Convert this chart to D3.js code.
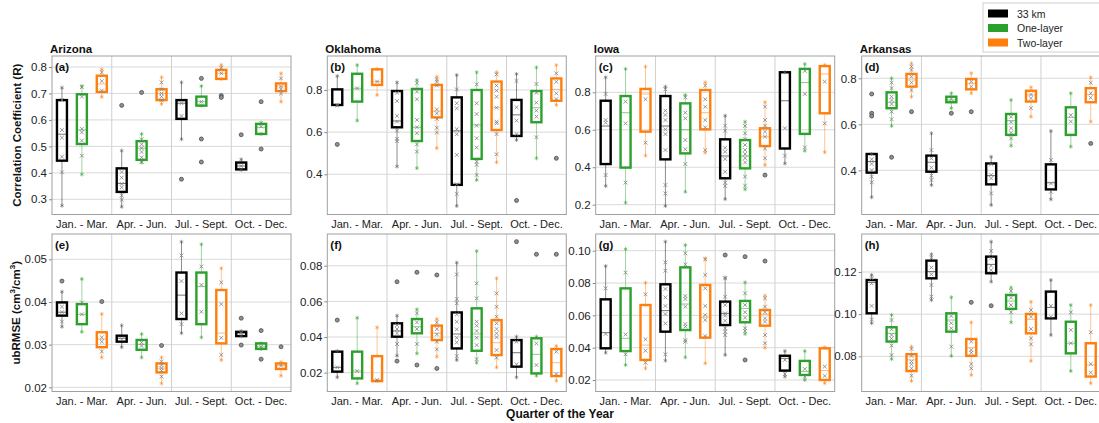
<!DOCTYPE html>
<html>
<head>
<meta charset="utf-8">
<script src="https://cdn.jsdelivr.net/npm/d3@7"></script>
<style>
  html, body { margin: 0; padding: 0; background: #fff; }
  svg { display: block; font-family: "Liberation Sans", Arial, sans-serif; }
</style>
</head>
<body>
<svg id="chart" width="1099" height="423"></svg>
<script>
// Quarters, model runs and colours
const quarters = ["Jan. - Mar.", "Apr. - Jun.", "Jul. - Sept.", "Oct. - Dec."];
const models = ["33 km", "One-layer", "Two-layer"];
const modelColors = ["#000000", "#2ca02c", "#ff7f0e"];

// Each box: [whiskerLow, q1, median, q3, whiskerHigh, [site values], [outliers]]
// Grouped per quarter, in model order (33 km, One-layer, Two-layer)

const arizonaR = [
  [[0.276,0.446,0.546,0.675,0.722,[0.675,0.562,0.533,0.461,0.402],[]],
   [0.394,0.509,0.562,0.697,0.728,[0.724,0.688,0.566,0.553,0.522,0.465],[]],
   [0.687,0.706,0.736,0.767,0.791,[0.780,0.747,0.711],[]]],
  [[0.272,0.328,0.360,0.417,0.484,[0.403,0.382,0.358,0.345,0.315,0.298],[0.655]],
   [0.439,0.449,0.493,0.520,0.547,[0.527,0.508,0.493,0.479,0.459,0.441],[0.704]],
   [0.660,0.675,0.700,0.716,0.761,[0.742,0.716,0.700,0.688,0.675],[]]],
  [[0.527,0.604,0.663,0.675,0.742,[0.663,0.615],[0.376]],
   [0.654,0.654,0.669,0.688,0.728,[0.669],[0.757,0.528,0.441]],
   [0.755,0.755,0.776,0.789,0.808,[0.797,0.776],[0.692,0.685]]],
  [[0.411,0.413,0.426,0.439,0.451,[0.426],[0.544]],
   [0.547,0.547,0.572,0.585,0.590,[0.575],[0.669,0.490]],
   [0.669,0.709,0.728,0.738,0.776,[0.757,0.726,0.716,0.700],[]]]
];

const oklahomaR = [
  [[0.729,0.729,0.729,0.803,0.866,[0.726],[0.542]],
   [0.655,0.745,0.808,0.877,0.918,[0.808],[]],
   [0.776,0.824,0.840,0.898,0.900,[0.840],[]]],
  [[0.437,0.623,0.653,0.795,0.836,[0.787,0.748,0.677,0.650,0.607,0.568,0.557],[]],
   [0.429,0.558,0.623,0.805,0.847,[0.832,0.792,0.756,0.658,0.623,0.595,0.542,0.508],[]],
   [0.524,0.670,0.700,0.824,0.863,[0.850,0.840,0.821,0.708,0.689,0.663,0.621,0.598],[]]],
  [[0.250,0.350,0.606,0.765,0.871,[0.803,0.737,0.713,0.614,0.590,0.492,0.353,0.307],[]],
   [0.373,0.473,0.634,0.800,0.884,[0.827,0.737,0.686,0.631,0.571,0.527,0.460,0.445,0.397],[]],
   [0.457,0.610,0.716,0.840,0.884,[0.874,0.821,0.797,0.768,0.716,0.650,0.642,0.591,0.495],[]]],
  [[0.563,0.582,0.682,0.753,0.876,[0.843,0.718,0.655,0.591],[0.276]],
   [0.476,0.647,0.716,0.795,0.907,[0.828,0.787,0.740,0.702,0.674,0.576],[]],
   [0.729,0.749,0.803,0.855,0.918,[0.879,0.839,0.784,0.757],[0.476]]]
];

const iowaR = [
  [[0.300,0.417,0.620,0.755,0.880,[0.791,0.652,0.638,0.358],[]],
   [0.211,0.398,0.691,0.780,0.925,[0.750,0.634,0.318],[]],
   [0.462,0.590,0.791,0.818,0.937,[0.763,0.531],[]]],
  [[0.193,0.442,0.620,0.780,0.830,[0.816,0.702,0.679,0.652,0.602,0.577,0.492,0.305,0.260],[]],
   [0.269,0.474,0.600,0.741,0.786,[0.773,0.691,0.661,0.545,0.496,0.417],[]],
   [0.478,0.602,0.691,0.812,0.853,[0.836,0.763,0.723,0.652,0.613,0.492],[]]],
  [[0.230,0.341,0.460,0.549,0.675,[0.622,0.595,0.504,0.483,0.444,0.376,0.318,0.300],[]],
   [0.282,0.394,0.460,0.545,0.643,[0.620,0.581,0.549,0.519,0.492,0.471,0.448,0.426,0.350,0.302],[]],
   [0.412,0.513,0.563,0.608,0.747,[0.723,0.652,0.622,0.590,0.563,0.500,0.448],[0.358]]],
  [[0.420,0.500,0.755,0.907,0.907,[0.608,0.462],[]],
   [0.488,0.578,0.852,0.925,0.951,[0.914,0.791,0.506],[]],
   [0.480,0.688,0.898,0.940,0.946,[0.857,0.634],[]]]
];

const arkansasR = [
  [[0.283,0.390,0.438,0.471,0.471,[0.448,0.428,0.401,0.372,0.348],[0.732,0.648,0.636]],
   [0.593,0.670,0.696,0.739,0.800,[0.781,0.757,0.720,0.706,0.688,0.655,0.622],[0.457]],
   [0.720,0.764,0.793,0.819,0.865,[0.851,0.836,0.807,0.781,0.749],[0.655]]],
  [[0.336,0.394,0.435,0.464,0.561,[0.488,0.452,0.412,0.377,0.358],[]],
   [0.670,0.696,0.706,0.720,0.735,[0.710],[0.648]],
   [0.735,0.752,0.778,0.797,0.822,[0.786,0.764],[0.655]]],
  [[0.249,0.339,0.377,0.430,0.459,[0.426,0.380,0.365,0.300],[]],
   [0.507,0.554,0.616,0.645,0.706,[0.633,0.609,0.583,0.564,0.539],[]],
   [0.633,0.699,0.728,0.746,0.761,[0.730,0.713,0.670],[]]],
  [[0.274,0.317,0.346,0.426,0.571,[0.445,0.343,0.307],[]],
   [0.503,0.554,0.630,0.674,0.735,[0.640,0.612],[]],
   [0.612,0.696,0.730,0.757,0.804,[0.781,0.735,0.716],[0.517]]]
];

const arizonaU = [
  [[0.0342,0.0368,0.0376,0.0399,0.0424,[0.0389,0.0376,0.0354],[0.0449]],
   [0.0330,0.0348,0.0371,0.0395,0.0454,[0.0399,0.0371],[]],
   [0.0270,0.0294,0.0313,0.0329,0.0372,[0.0317,0.0307,0.0284],[0.0401]]],
  [[0.0294,0.0307,0.0315,0.0321,0.0345,[0.0313],[]],
   [0.0270,0.0288,0.0301,0.0311,0.0325,[0.0305,0.0297],[]],
   [0.0209,0.0235,0.0245,0.0256,0.0270,[0.0260,0.0252,0.0245,0.0239,0.0225],[0.0298]]],
  [[0.0327,0.0360,0.0416,0.0469,0.0541,[0.0509,0.0449,0.0373,0.0348],[]],
   [0.0317,0.0348,0.0436,0.0469,0.0535,[0.0483,0.0440,0.0377],[]],
   [0.0264,0.0303,0.0327,0.0428,0.0479,[0.0446,0.0395,0.0316,0.0276],[]]],
  [[0.0320,0.0320,0.0327,0.0330,0.0332,[0.0327],[0.0362,0.0299]],
   [0.0290,0.0290,0.0295,0.0303,0.0303,[0.0295],[0.0333,0.0266]],
   [0.0227,0.0243,0.0251,0.0256,0.0259,[0.0251],[0.0295]]]
];

const oklahomaU = [
  [[0.0174,0.0206,0.0230,0.0318,0.0322,[0.0230],[0.0495]],
   [0.0140,0.0168,0.0209,0.0318,0.0508,[0.0209],[]],
   [0.0153,0.0153,0.0159,0.0293,0.0454,[0.0159],[]]],
  [[0.0295,0.0402,0.0434,0.0477,0.0520,[0.0467,0.0445,0.0421,0.0361],[0.0710,0.0265]],
   [0.0308,0.0421,0.0458,0.0501,0.0555,[0.0533,0.0482,0.0445,0.0361],[0.0763,0.0243]],
   [0.0290,0.0383,0.0421,0.0464,0.0501,[0.0482,0.0445,0.0415,0.0374,0.0331],[0.0748,0.0224]]],
  [[0.0271,0.0336,0.0417,0.0538,0.0817,[0.0751,0.0613,0.0589,0.0527,0.0486,0.0443,0.0396,0.0370,0.0293],[]],
   [0.0256,0.0323,0.0417,0.0561,0.0882,[0.0701,0.0617,0.0486,0.0464,0.0434,0.0396,0.0355,0.0276],[]],
   [0.0230,0.0299,0.0368,0.0495,0.0729,[0.0645,0.0570,0.0514,0.0477,0.0445,0.0421,0.0399,0.0327,0.0284],[]]],
  [[0.0174,0.0234,0.0312,0.0383,0.0402,[0.0374,0.0247],[0.0935]],
   [0.0183,0.0196,0.0303,0.0393,0.0402,[0.0364,0.0243],[0.0864]],
   [0.0155,0.0181,0.0256,0.0333,0.0350,[0.0318,0.0193],[0.0864]]]
];

const iowaU = [
  [[0.0369,0.0396,0.0493,0.0699,0.0905,[0.0767,0.0485],[]],
   [0.0293,0.0379,0.0458,0.0767,0.1010,[0.0864,0.0482,0.0359],[]],
   [0.0272,0.0324,0.0416,0.0664,0.0802,[0.0730,0.0452,0.0381,0.0307],[]]],
  [[0.0320,0.0499,0.0629,0.0792,0.1056,[0.0928,0.0876,0.0763,0.0711,0.0658,0.0608,0.0550,0.0359],[]],
   [0.0340,0.0509,0.0670,0.0897,0.1035,[0.0984,0.0915,0.0720,0.0701,0.0654,0.0546,0.0530,0.0447,0.0437],[]],
   [0.0303,0.0462,0.0588,0.0788,0.0953,[0.0946,0.0850,0.0767,0.0658,0.0602,0.0571,0.0472],[]]],
  [[0.0355,0.0540,0.0612,0.0685,0.0833,[0.0829,0.0715,0.0664,0.0612,0.0598,0.0567,0.0520,0.0499,0.0478],[0.0973]],
   [0.0485,0.0557,0.0643,0.0689,0.0804,[0.0736,0.0664,0.0619,0.0586,0.0520,0.0503],[0.0963,0.0324]],
   [0.0400,0.0536,0.0606,0.0633,0.0722,[0.0705,0.0654,0.0619,0.0581,0.0561,0.0478,0.0427],[0.0936]]],
  [[0.0221,0.0258,0.0334,0.0350,0.0379,[0.0324,0.0237],[]],
   [0.0200,0.0231,0.0252,0.0318,0.0379,[0.0268,0.0220],[]],
   [0.0180,0.0200,0.0258,0.0396,0.0402,[0.0283,0.0225],[]]]
];

const arkansasU = [
  [[0.0957,0.1004,0.1150,0.1162,0.1186,[0.1170,0.1146,0.1039,0.0975],[]],
   [0.0787,0.0870,0.0909,0.0938,0.0996,[0.0972,0.0928,0.0901,0.0885,0.0851,0.0806],[]],
   [0.0683,0.0730,0.0783,0.0810,0.0846,[0.0835,0.0802,0.0775,0.0762,0.0743,0.0708],[]]],
  [[0.1067,0.1170,0.1202,0.1254,0.1284,[0.1268,0.1221,0.1189,0.1138,0.1083],[]],
   [0.0802,0.0917,0.0972,0.1004,0.1080,[0.0991,0.0957,0.0933,0.0846],[]],
   [0.0711,0.0802,0.0841,0.0882,0.0961,[0.0870,0.0830,0.0817,0.0764,0.0743],[0.1056]]],
  [[0.1154,0.1194,0.1236,0.1273,0.1344,[0.1300,0.1265,0.1230,0.1209],[0.1040]],
   [0.0961,0.1025,0.1062,0.1091,0.1126,[0.1110,0.1078,0.1043,0.1009],[]],
   [0.0778,0.0909,0.0975,0.1001,0.1059,[0.1020,0.0988,0.0930,0.0885,0.0857],[]]],
  [[0.0901,0.0980,0.1032,0.1107,0.1162,[0.1039,0.0988],[]],
   [0.0730,0.0814,0.0862,0.0964,0.1043,[0.1009,0.0925,0.0862],[]],
   [0.0672,0.0704,0.0759,0.0862,0.1043,[0.0914,0.0764,0.0723],[]]]
];

// Tick values for each panel's y axis
const ticksA = [0.3, 0.4, 0.5, 0.6, 0.7, 0.8];
const ticksB = [0.4, 0.6, 0.8];
const ticksC = [0.2, 0.4, 0.6, 0.8];
const ticksD = [0.4, 0.6, 0.8];
const ticksE = [0.02, 0.03, 0.04, 0.05];
const ticksF = [0.02, 0.04, 0.06, 0.08];
const ticksG = [0.02, 0.04, 0.06, 0.08, 0.10];
const ticksH = [0.08, 0.10, 0.12];

// Panel layout
const rows = [{top: 56, bottom: 214.5}, {top: 234, bottom: 391.5}];
const colX = [52, 327.3, 595.7, 861.7];
const panelW = 239;

const panels = [
  {label: "(a)", title: "Arizona",  data: arizonaR,  row: 0, col: 0, domain: [0.2426, 0.8416], ticks: ticksA, fmt: ".1f"},
  {label: "(b)", title: "Oklahoma", data: oklahomaR, row: 0, col: 1, domain: [0.2093, 0.9613], ticks: ticksB, fmt: ".1f"},
  {label: "(c)", title: "Iowa",     data: iowaR,     row: 0, col: 2, domain: [0.1477, 0.9938], ticks: ticksC, fmt: ".1f"},
  {label: "(d)", title: "Arkansas", data: arkansasR, row: 0, col: 3, domain: [0.208, 0.897],   ticks: ticksD, fmt: ".1f"},
  {label: "(e)", title: null, data: arizonaU,  row: 1, col: 0, domain: [0.01902, 0.05593], ticks: ticksE, fmt: ".2f"},
  {label: "(f)", title: null, data: oklahomaU, row: 1, col: 1, domain: [0.00946, 0.09778], ticks: ticksF, fmt: ".2f"},
  {label: "(g)", title: null, data: iowaU,     row: 1, col: 2, domain: [0.01288, 0.11033], ticks: ticksG, fmt: ".2f"},
  {label: "(h)", title: null, data: arkansasU, row: 1, col: 3, domain: [0.0633, 0.13803],  ticks: ticksH, fmt: ".2f"}
];

const svg = d3.select("#chart");
svg.append("rect").attr("width", 1099).attr("height", 423).attr("fill", "#fff");

const defs = svg.append("defs");
const boxW = 10;

panels.forEach((p, pi) => {
  const x0 = colX[p.col], x1 = x0 + panelW;
  const top = rows[p.row].top, bottom = rows[p.row].bottom;

  const y = d3.scaleLinear().domain(p.domain).range([bottom, top]);
  const xQ = d3.scaleBand().domain(quarters).range([x0, x1]).padding(0);
  const xM = d3.scaleBand().domain(models).range([0, xQ.bandwidth()]).padding(0);

  const clipId = "clip" + pi;
  defs.append("clipPath").attr("id", clipId)
    .append("rect").attr("x", x0).attr("y", top).attr("width", panelW).attr("height", bottom - top);

  const g = svg.append("g");

  // horizontal grid
  g.append("g").selectAll("line").data(p.ticks).join("line")
    .attr("x1", x0).attr("x2", x1)
    .attr("y1", d => y(d)).attr("y2", d => y(d))
    .attr("stroke", "#d9d9d9").attr("stroke-width", 1);

  // quarter separators
  g.append("g").selectAll("line").data(quarters.slice(1)).join("line")
    .attr("x1", d => xQ(d)).attr("x2", d => xQ(d))
    .attr("y1", top).attr("y2", bottom)
    .attr("stroke", "#d0d0d0").attr("stroke-width", 1);

  // y axis
  const yAxis = d3.axisLeft(y).tickValues(p.ticks).tickFormat(d3.format(p.fmt)).tickSize(3).tickPadding(2);
  const ya = g.append("g").attr("transform", `translate(${x0},0)`).call(yAxis);
  ya.select(".domain").remove();
  ya.selectAll(".tick line").attr("stroke", "#888");
  ya.selectAll(".tick text").attr("font-size", 11.5).attr("fill", "#222")
    .attr("font-family", "Liberation Sans, Arial, sans-serif");

  // x axis labels
  const xAxis = d3.axisBottom(xQ).tickSize(0).tickPadding(6);
  const xa = g.append("g").attr("transform", `translate(0,${bottom})`).call(xAxis);
  xa.select(".domain").remove();
  xa.selectAll(".tick text").attr("font-size", 11).attr("fill", "#222")
    .attr("font-family", "Liberation Sans, Arial, sans-serif");

  // boxes
  const plot = g.append("g").attr("clip-path", `url(#${clipId})`);
  p.data.forEach((quarterBoxes, qi) => {
    quarterBoxes.forEach((b, mi) => {
      const [lo, q1, med, q3, hi, pts, outs] = b;
      const color = modelColors[mi];
      const cx = xQ(quarters[qi]) + xM(models[mi]) + xM.bandwidth() / 2;
      const bg = plot.append("g");

      // whiskers
      bg.append("line").attr("x1", cx).attr("x2", cx).attr("y1", y(lo)).attr("y2", y(q1))
        .attr("stroke", color).attr("stroke-opacity", 0.45).attr("stroke-width", 1);
      bg.append("line").attr("x1", cx).attr("x2", cx).attr("y1", y(q3)).attr("y2", y(hi))
        .attr("stroke", color).attr("stroke-opacity", 0.45).attr("stroke-width", 1);

      // median
      bg.append("line").attr("x1", cx - boxW / 2).attr("x2", cx + boxW / 2)
        .attr("y1", y(med)).attr("y2", y(med))
        .attr("stroke", color).attr("stroke-opacity", 0.55).attr("stroke-width", 1);

      // box
      bg.append("rect").attr("x", cx - boxW / 2).attr("y", y(q3))
        .attr("width", boxW).attr("height", Math.max(0, y(q1) - y(q3)))
        .attr("fill", "none").attr("stroke", color).attr("stroke-width", 2.4);

      // whisker end markers
      bg.selectAll("path.cap").data([lo, hi]).join("path").attr("class", "cap")
        .attr("d", d3.symbol(d3.symbolAsterisk, 12))
        .attr("transform", d => `translate(${cx},${y(d)})`)
        .attr("fill", "none").attr("stroke", color === "#000000" ? "#555" : color)
        .attr("stroke-opacity", 0.6).attr("stroke-width", 0.9);

      // site values
      bg.selectAll("path.pt").data(pts).join("path").attr("class", "pt")
        .attr("d", d3.symbol(d3.symbolTimes, 11))
        .attr("transform", d => `translate(${cx},${y(d)})`)
        .attr("fill", "none").attr("stroke", "#808080").attr("stroke-width", 0.8);

      // outliers
      bg.selectAll("circle.out").data(outs).join("circle").attr("class", "out")
        .attr("cx", cx).attr("cy", d => y(d)).attr("r", 2)
        .attr("fill", "#909090").attr("stroke", "#4a4a4a").attr("stroke-width", 0.8);
    });
  });

  // frame
  g.append("rect").attr("x", x0).attr("y", top).attr("width", panelW).attr("height", bottom - top)
    .attr("fill", "none").attr("stroke", "#a0a0a0").attr("stroke-width", 1);

  // panel letter
  g.append("text").attr("x", x0 + 3).attr("y", top + 15)
    .attr("font-size", 11.5).attr("font-weight", "bold").attr("fill", "#111").text(p.label);

  // state title
  if (p.title) {
    g.append("text").attr("x", x0 - 2).attr("y", top - 3)
      .attr("font-size", 11.5).attr("font-weight", "bold").attr("fill", "#111").text(p.title);
  }
});

// y-axis titles
svg.append("text")
  .attr("transform", `translate(21,${(rows[0].top + rows[0].bottom) / 2}) rotate(-90)`)
  .attr("text-anchor", "middle").attr("font-size", 11.5).attr("font-weight", "bold").attr("fill", "#111")
  .text("Correlation Coefficient (R)");

const ub = svg.append("text")
  .attr("transform", `translate(20,${(rows[1].top + rows[1].bottom) / 2}) rotate(-90)`)
  .attr("text-anchor", "middle").attr("font-size", 11.5).attr("font-weight", "bold").attr("fill", "#111");
ub.append("tspan").text("ubRMSE (cm");
ub.append("tspan").attr("font-size", 8).attr("dy", -5).text("3");
ub.append("tspan").attr("dy", 5).text("/cm");
ub.append("tspan").attr("font-size", 8).attr("dy", -5).text("3");
ub.append("tspan").attr("dy", 5).text(")");

// x-axis title
svg.append("text").attr("x", 560).attr("y", 418).attr("text-anchor", "middle")
  .attr("font-size", 12).attr("font-weight", "bold").attr("fill", "#111")
  .text("Quarter of the Year");

// legend
const legend = svg.append("g");
legend.append("rect").attr("x", 983).attr("y", 3).attr("width", 130).attr("height", 49)
  .attr("fill", "#fff").attr("stroke", "#d0d0d0").attr("stroke-width", 1);
models.forEach((m, i) => {
  legend.append("rect").attr("x", 988).attr("y", 9.5 + i * 14.5).attr("width", 20).attr("height", 8)
    .attr("fill", modelColors[i]);
  legend.append("text").attr("x", 1017).attr("y", 17.5 + i * 14.5)
    .attr("font-size", 10.5).attr("fill", "#222").text(m);
});
</script>
</body>
</html>
